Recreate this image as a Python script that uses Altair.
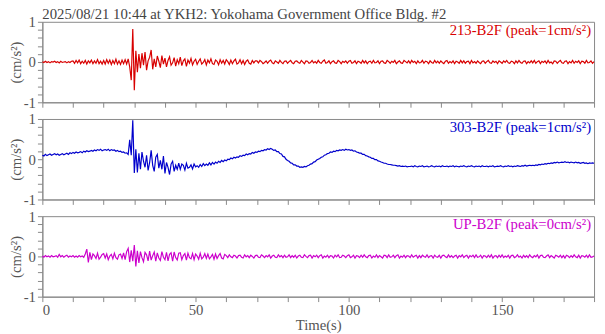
import altair as alt
import pandas as pd

TITLE = "2025/08/21 10:44 at YKH2: Yokohama Government Office Bldg. #2"
channels = ["213-B2F", "303-B2F", "UP-B2F"]
peaks = [1, 1, 0]
colors = ["#d80000", "#0000cc", "#cc00cc"]
x_ticks = [0, 10, 20, 30, 40, 50, 60, 70, 80, 90, 100, 110, 120, 130, 140, 150, 160, 170, 180]
y_ticks = [-1, -0.8, -0.6, -0.4, -0.2, 0, 0.2, 0.4, 0.6, 0.8, 1]

# sample times (s), 0.5 s apart
times = [i * 0.5 for i in range(361)]

# accelerations, in 1/100 cm/s^2
red_vals = [
    1, -1, 2, -1, 1, -2, 1, 0, 2, -1, 1, -2, 2, -1, 0, 1, -2, 1, -1, 2,
    3, -3, 4, -2, 5, -4, 2, -3, 4, -5, 3, -2, 5, -4, 3, -3, 6, -4, 2, -5,
    4, -5, 6, -3, 5, -6, 4, -4, 7, -5, 3, -6, 5, -4, 6, -5,
    8, -12, -45, 82, -70, 28, -25, 20,
    -15, 22, -8, 25, -20, 3, 12, 30, -18, 8, -12, 15, 2, -14, 16, -5,
    10, -12, 4, 13, -8, -2, 11, -10, 6, -4, 12, -9, 3, 8, -11, 5, -3, 9, -7, 2,
    7, -6, 2, 8, -5, -1, 6, -7, 5, -2, 8, -4, -6, 5, 2, -7, 6, -3, 4, -5,
    6, 1, -6, 5, -4, 3, 7, -5, -2, 6, -4, 4, -6, 2, 5, -3, -5, 4, -2, 3,
    3, -2, 4, 1, -4, -1, 3, -3, 2, 5, -2, -4, 3, 0, -3, 4, -1, -4, 2, 3,
    -3, 1, 4, -2, -4, 2, 3, -1, -3, 4, 0, -4, 3, 2, -3, -1, 4, -2, 1, -3,
    4, -1, -3, 2, 5, -3, -1, 3, -4, 1, 3, -2, -3, 4, 1, -4, 2, -1, 3, -3,
    2, 4, -3, -1, 3, -4, 2, 0, -3, 4, -2, 3, -4, 1, 2, -3, 4, -2, -1, 3,
    -4, 2, 3, -2, -3, 4, 1, -3, 2, -1, 4, -4, 0, 3, -2, -3, 4, 1, -2, 3,
    -3, 4, -1, 2, -4, 3, -2, -1, 4, -3, 2, 1, -4, 3, -1, -3, 4, -2, 2, -3,
    3, -1, -4, 2, 4, -3, 1, -2, 3, -4, 2, 0, -3, 4, -2, 3, -3, 1, 2, -4,
    4, -2, 1, -3, 3, -1, -4, 2, 3, -3, 1, 4, -2, -3, 3, -1, 2, -4, 3, 0,
    -3, 3, -1, 4, -2, -3, 2, 1, -4, 3, -2, 4, -1, -3, 2, 3, -4, 1, -2, 3,
    -2, 4, -3, 1, 3, -4, 2, -1, 3, -3, 4, -2, 0, -4, 3, 2, -3, 1, 4, -2,
    -3, 2, 3, -4, 1, -2, 4, -3, 2, -1, 3, -4, 2, 1, -3, 4, -2, -1, 3, -3,
    1,
]

blue_vals = [
    10, 8, 12, 9, 11, 13, 10, 12, 14, 11, 13, 10, 12, 14, 11, 13,
    15, 12, 16, 14, 17, 15, 18, 16, 17, 19, 16, 20, 18, 21, 19, 20,
    22, 20, 23, 21, 24, 22, 25, 21, 23, 24,
    22, 25, 21, 24, 22, 23, 20, 22,
    19, 20, 17, 18, 15, 16,
    12, 48, 10, 97, -34, 25, -33, 15,
    -25, 18, -5, -20, 10, -28, -8, 22, -15, -30, 5, 12, -22, -3, -25, 8,
    -35, -8, -20, -38, -12, -5, -30, -15, -25, -10,
    -25, -12, -15, -27, -10, -22, -20, -14, -24, -12, -19, -16,
    -20, -13, -18, -11, -16, -12, -15, -9, -14, -8, -12, -7, -10, -5, -8, -3, -6, -2,
    -4, 0, -1, 3, 1, 5, 3, 6, 5, 9, 7, 10, 9, 13, 11, 14, 13, 17, 15, 18,
    17, 20, 19, 22, 21, 24, 23, 26, 24, 27, 25, 22, 23, 19, 19, 14, 13, 7, 6, 0,
    -3, -5, -9, -10, -14, -14, -17, -17, -20, -19, -20, -18, -19, -16, -15, -12, -11, -7, -6, -2,
    0, 2, 5, 6, 10, 11, 14, 15, 18, 17, 20, 19, 22, 21, 23, 22, 24, 22, 25, 23,
    24, 22, 23, 20, 21, 18, 17, 15, 15, 12, 12, 9, 8, 6, 5, 2, 2, -1, -1, -4,
    -5, -7, -8, -10, -10, -12, -13, -13, -14, -15, -15, -16, -17, -16, -18, -17, -18, -17, -19, -18,
    -18, -17, -19, -16, -18, -19, -17, -18, -16, -19, -18, -17, -19, -18, -16, -18, -19, -17, -18, -17,
    -19, -16, -18, -18, -17, -19, -17, -18, -16, -19, -17, -18, -19, -17, -18, -16, -18, -19, -17, -18,
    -16, -18, -19, -17, -18, -17, -19, -16, -18, -18, -17, -19, -17, -18, -16, -19, -18, -17, -18, -16,
    -18, -19, -17, -18, -16, -18, -17, -19, -17, -18, -16, -17, -18, -16, -17, -15, -17, -16, -15, -16,
    -15, -16, -14, -15, -13, -14, -12, -13, -11, -12, -10, -11, -9, -10, -8, -9, -7, -9, -8, -7,
    -8, -6, -8, -7, -9, -7, -8, -9, -7, -9, -8, -10, -9, -8, -10, -9, -11, -9, -10, -9, -10,
]

mag_vals = [
    1, -2, 2, -1, 1, -2, 2, -1, 0, 2, -2, 5, -1, 2, -2, 1, 3, -2, 1, -1, 2, -2, 1, -2, 2, -1, 1, -2,
    6, 18, -15, 10,
    -8, 6, 2, -5, 8, -7, -2, 5, 7, -4, 6, -8, 1, 5, -6, 8, -3, -7, 4, 6, -5, 9,
    -8, 12, 20, -14, 15, -12, 28, -25, 14, -16,
    12, -3, -13, 10, 4, -11, 13, -9, 2, 11, -12, 9, -4, -10, 12, -2, -8, 10, -11, 5, 9, -12, 11, -3, -9, 8,
    9, -8, 2, 7, -9, 8, -3, -6, 7, -8, 6, 1, -7, 8, -6, -2, 7, -5, 6, -6, -1, 5, -7, 6, -5, 2, 7, -4, -6, 5,
    2, -3, 4, -1, -3, 3, 1, -4, 2, 3, -2, -4, 4, -1, 2, -3, 3, 0, -4, 2,
    3, -2, -3, 4, 1, -3, 2, -1, 4, -4, 1, 3, -2, -3, 4, -1, 2, -3, 3, -2,
    -1, 4, -3, 2, -2, 3, -4, 1, 3, -2, -3, 4, 0, -3, 2, 3, -4, 2, -1, 3,
    -3, 2, 4, -4, 1, -2, 3, -3, 2, 1, -4, 3, -1, 4, -3, -2, 3, 1, -3, 2,
    4, -3, -1, 3, -4, 2, 1, -3, 3, -2, 4, -1, -3, 2, 3, -4, 1, -2, 4, -3,
    2, -1, -4, 3, 2, -3, 4, -2, -1, 3, -3, 2, 4, -4, 1, -2, 3, -3, 2, 1,
    -3, 4, -2, 1, 3, -4, 2, -3, 3, 0, -2, 4, -3, 1, 2, -4, 3, -1, -2, 3,
    -4, 2, 3, -1, -3, 4, -2, 2, -3, 1, 3, -4, 2, -1, 4, -3, 1, 3, -4, 2,
    -1, 3, -3, 4, -2, -1, 3, -4, 2, 1, -3, 3, -2, 4, -4, 1, 2, -3, 3, -2,
    4, -3, 1, -2, 3, -4, 2, 3, -3, -1, 4, -2, 1, -4, 3, -2, 2, -3, 4, -1,
    -3, 2, -1, 4, -4, 2, 3, -2, -3, 1, 4, -3, 2, -1, -4, 3, 1, -2, 3, -3,
    2, -4, 3, 1, -3, 2, -2, 4, -1, -3, 3, -4, 2, 1, -2, 3, -3, 4, -2, -1,
    1,
]

FONT = "Liberation Serif"
W, H = 562, 82


def panel(idx, vals, bottom):
    df = pd.DataFrame({"t": times, "v": [v / 100 for v in vals]})
    x_axis = alt.Axis(
        values=x_ticks,
        labelExpr="datum.value % 50 == 0 ? datum.label : ''",
        labels=bottom,
        title="Time(s)" if bottom else None,
        labelPadding=1,
        titlePadding=0,
    )
    y_axis = alt.Axis(
        values=y_ticks,
        labelExpr="datum.value == 1 ? '1' : (datum.value == 0 ? '0' : (datum.value == -1 ? '-1' : ''))",
        title="(cm/s²)",
        labelPadding=2,
        titlePadding=0,
    )
    line = alt.Chart(df).mark_line(color=colors[idx], strokeWidth=1.2).encode(
        x=alt.X("t:Q", scale=alt.Scale(domain=[0, 180], nice=False, zero=False), axis=x_axis),
        y=alt.Y("v:Q", scale=alt.Scale(domain=[-1, 1], nice=False), axis=y_axis),
    )
    lab = pd.DataFrame({"txt": [f"{channels[idx]} (peak={peaks[idx]}cm/s²)"]})
    text = alt.Chart(lab).mark_text(
        align="right", baseline="alphabetic", font=FONT, fontSize=15, color=colors[idx]
    ).encode(x=alt.value(W - 3), y=alt.value(13), text="txt:N")
    layers = [line, text]
    if idx == 0:
        ttl = alt.Chart(pd.DataFrame({"txt": [TITLE]})).mark_text(
            align="left", baseline="alphabetic", font=FONT, fontSize=15, color="#444"
        ).encode(x=alt.value(0), y=alt.value(-2.5), text="txt:N")
        layers.append(ttl)
    return alt.layer(*layers).properties(width=W, height=H)


chart = alt.vconcat(
    panel(0, red_vals, False),
    panel(1, blue_vals, False),
    panel(2, mag_vals, True),
    spacing=0,
).properties(
    padding={"left": 0, "top": -4, "right": 0, "bottom": 0}
).configure_view(
    stroke="#888", strokeWidth=1
).configure_axis(
    domainColor="#888", tickColor="#888", labelColor="#555", titleColor="#555",
    labelFont=FONT, titleFont=FONT, labelFontSize=15, titleFontSize=15,
    titleFontWeight="normal", grid=False, tickSize=5,
)

chart.save("out.html", embed_options={"renderer": "svg", "actions": False})
